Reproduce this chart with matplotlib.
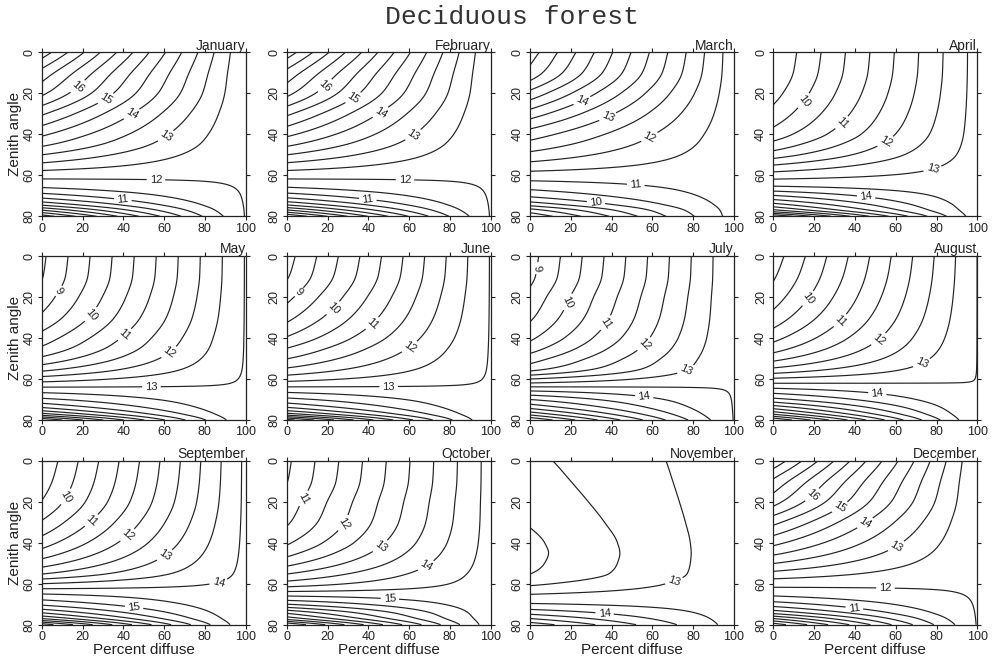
import numpy as np
import matplotlib
matplotlib.use('Agg')
from matplotlib import pyplot as plt

months = ['January', 'February', 'March', 'April', 'May', 'June',
          'July', 'August', 'September', 'October', 'November', 'December']

zen_knots = [0, 10, 20, 30, 40, 45, 50, 55, 60, 65, 70, 74, 77, 80]

jan_direct = [18.3, 17.32, 16.61, 15.57, 14.59, 14.1, 13.5, 12.86, 12.19, 11.64, 10.75, 9.69, 8.5, 7.2]
feb_direct = [18.3, 17.35, 16.65, 15.6, 14.62, 14.1, 13.5, 12.85, 12.2, 11.62, 10.72, 9.65, 8.45, 7.0]
mar_direct = [16.75, 16.31, 15.34, 14.26, 13.25, 12.82, 12.35, 11.83, 11.28, 10.74, 10.08, 9.25, 8.31, 7.6]
apr_direct = [9.02, 9.1, 9.32, 9.68, 10.22, 10.67, 11.25, 12.0, 12.75, 13.45, 14.55, 15.6, 16.6, 18.5]
may_direct = [8.4, 8.47, 8.72, 9.1, 9.72, 10.08, 10.6, 11.3, 12.23, 13.2, 14.12, 15.03, 16.12, 18.0]
jun_direct = [8.3, 8.45, 8.85, 9.35, 10.05, 10.5, 10.98, 11.55, 12.3, 13.22, 14.15, 15.05, 16.15, 18.2]
jul_direct = [8.8, 8.88, 9.15, 9.42, 9.9, 10.27, 10.75, 11.3, 12.5, 13.8, 15.0, 15.9, 16.8, 18.0]
aug_direct = [8.75, 8.94, 9.25, 9.69, 10.34, 10.77, 11.33, 12.07, 13.08, 14.1, 15.16, 16.34, 17.42, 19.0]
sep_direct = [9.1, 9.25, 9.52, 10.05, 10.75, 11.2, 11.75, 12.45, 13.5, 14.5, 15.4, 16.44, 17.5, 19.3]
oct_direct = [10.4, 10.48, 10.71, 10.93, 11.42, 11.82, 12.33, 12.96, 13.71, 14.77, 16.0, 17.36, 18.3, 20.0]
nov_direct = [12.4, 12.3, 12.18, 12.04, 11.9, 11.87, 11.9, 11.99, 12.4, 12.98, 13.55, 14.3, 15.0, 15.8]
dec_direct = [18.4, 17.4, 16.7, 15.65, 14.65, 14.12, 13.52, 12.86, 12.19, 11.64, 10.75, 9.7, 8.5, 7.2]

direct_values = [jan_direct, feb_direct, mar_direct, apr_direct, may_direct, jun_direct,
                 jul_direct, aug_direct, sep_direct, oct_direct, nov_direct, dec_direct]

# value at 100% diffuse (same for every zenith angle)
diffuse_values = [12.03, 12.03, 11.2, 13.2, 13.03, 13.03, 13.48, 13.505, 14.1, 14.7, 13.3, 12.03]

# where the integer contour labels sit (percent diffuse, zenith)
label_spots = [
    [(18, 17), (32, 23.5), (45, 31.5), (61, 41), (56, 61.5), (40, 70)],
    [(19, 16.5), (34.5, 25), (47.7, 32), (62.5, 41), (58, 61.5), (40, 69.7)],
    [(24.6, 21.7), (37, 29), (57, 38.5), (52, 62.5), (32.5, 71.8)],
    [(14.6, 23.3), (34, 34.7), (55, 43.6), (78, 56.7), (45.5, 70.5)],
    [(9, 17.4), (24.5, 28.8), (40.8, 38.5), (62.8, 47.5), (53.8, 64)],
    [(4.3, 15.8), (23, 25.6), (43.5, 34.5), (60.8, 45), (50, 62.6)],
    [(3.8, 6), (17.7, 22), (37.8, 33), (56, 43), (76.6, 56), (56, 68.5)],
    [(17.8, 21.2), (34, 32.7), (51.8, 40.8), (72, 50.6), (51, 67)],
    [(12.2, 17.7), (24.4, 29.2), (43, 37.4), (60, 45.6), (87, 60.6), (45.5, 69.8)],
    [(9.4, 19), (26.7, 29.7), (45.6, 41.3), (68.7, 52), (50.6, 66.8)],
    [(70, 57), (36.6, 74.2)],
    [(19, 16.5), (33.5, 24), (46, 32), (61, 43), (55, 61.4), (40, 69.5)],
]

half_levels = np.arange(5.5, 22, 1.0)
int_levels = np.arange(5, 22, 1.0)


def pchip(xk, yk, x):
    # monotone cubic so the contours don't kink at the knots
    xk = np.asarray(xk, float)
    yk = np.asarray(yk, float)
    h = np.diff(xk)
    delta = np.diff(yk) / h
    m = np.zeros_like(yk)
    m[0] = delta[0]
    m[-1] = delta[-1]
    for k in range(1, len(xk) - 1):
        if delta[k - 1] * delta[k] <= 0:
            m[k] = 0
        else:
            w1 = 2 * h[k] + h[k - 1]
            w2 = h[k] + 2 * h[k - 1]
            m[k] = (w1 + w2) / (w1 / delta[k - 1] + w2 / delta[k])
    i = np.clip(np.searchsorted(xk, x) - 1, 0, len(xk) - 2)
    t = (x - xk[i]) / h[i]
    h00 = 2 * t**3 - 3 * t**2 + 1
    h10 = t**3 - 2 * t**2 + t
    h01 = -2 * t**3 + 3 * t**2
    h11 = t**3 - t**2
    return h00 * yk[i] + h10 * h[i] * m[i] + h01 * yk[i + 1] + h11 * h[i] * m[i + 1]


ink = '#222222'
plt.rcParams['font.family'] = ['Liberation Sans', 'DejaVu Sans']
plt.rcParams['text.color'] = ink
plt.rcParams['axes.labelcolor'] = ink
plt.rcParams['xtick.color'] = ink
plt.rcParams['ytick.color'] = ink

fig = plt.figure(figsize=(10, 6.65), dpi=100)
fig.text(0.512, 0.975, 'Deciduous forest', ha='center', va='center',
         family='Liberation Mono', fontsize=19, color='#333333')

col_left = [0.0417, 0.2867, 0.530, 0.7733]
row_bottom = [0.6747, 0.3684, 0.0606]
w, h = 0.204, 0.2466

d = np.linspace(0, 100, 201)
z = np.linspace(0, 80, 321)
D, Z = np.meshgrid(d, z)

for n, month in enumerate(months):
    r, c = divmod(n, 4)
    ax = fig.add_axes([col_left[c], row_bottom[r], w, h])
    b = pchip(zen_knots, direct_values[n], z)
    frac = D / 100.0
    field = frac * diffuse_values[n] + (1 - frac) * b[:, None]

    ax.contour(D, Z, field, levels=half_levels, colors=ink, linewidths=0.85)
    cs = ax.contour(D, Z, field, levels=int_levels, colors=ink, linewidths=0.85)
    ax.clabel(cs, fmt='%d', fontsize=8, inline=True, inline_spacing=3,
              manual=label_spots[n])

    ax.set_xlim(0, 100)
    ax.set_ylim(80, 0)
    ax.set_xticks([0, 20, 40, 60, 80, 100])
    ax.set_yticks([0, 20, 40, 60, 80])
    ax.tick_params(direction='out', length=3, width=0.8, top=True, right=True,
                   labelsize=9, pad=1.5)
    for lab in ax.get_yticklabels():
        lab.set_rotation(90)
        lab.set_va('center')
    for sp in ax.spines.values():
        sp.set_linewidth(0.9)
        sp.set_color(ink)
    ax.set_title(month, loc='right', fontsize=10, pad=2)
    if c == 0:
        ax.set_ylabel('Zenith angle', fontsize=11, labelpad=1)
    if r == 2:
        ax.set_xlabel('Percent diffuse', fontsize=11, labelpad=0)

fig.savefig('out.png', dpi=100)
